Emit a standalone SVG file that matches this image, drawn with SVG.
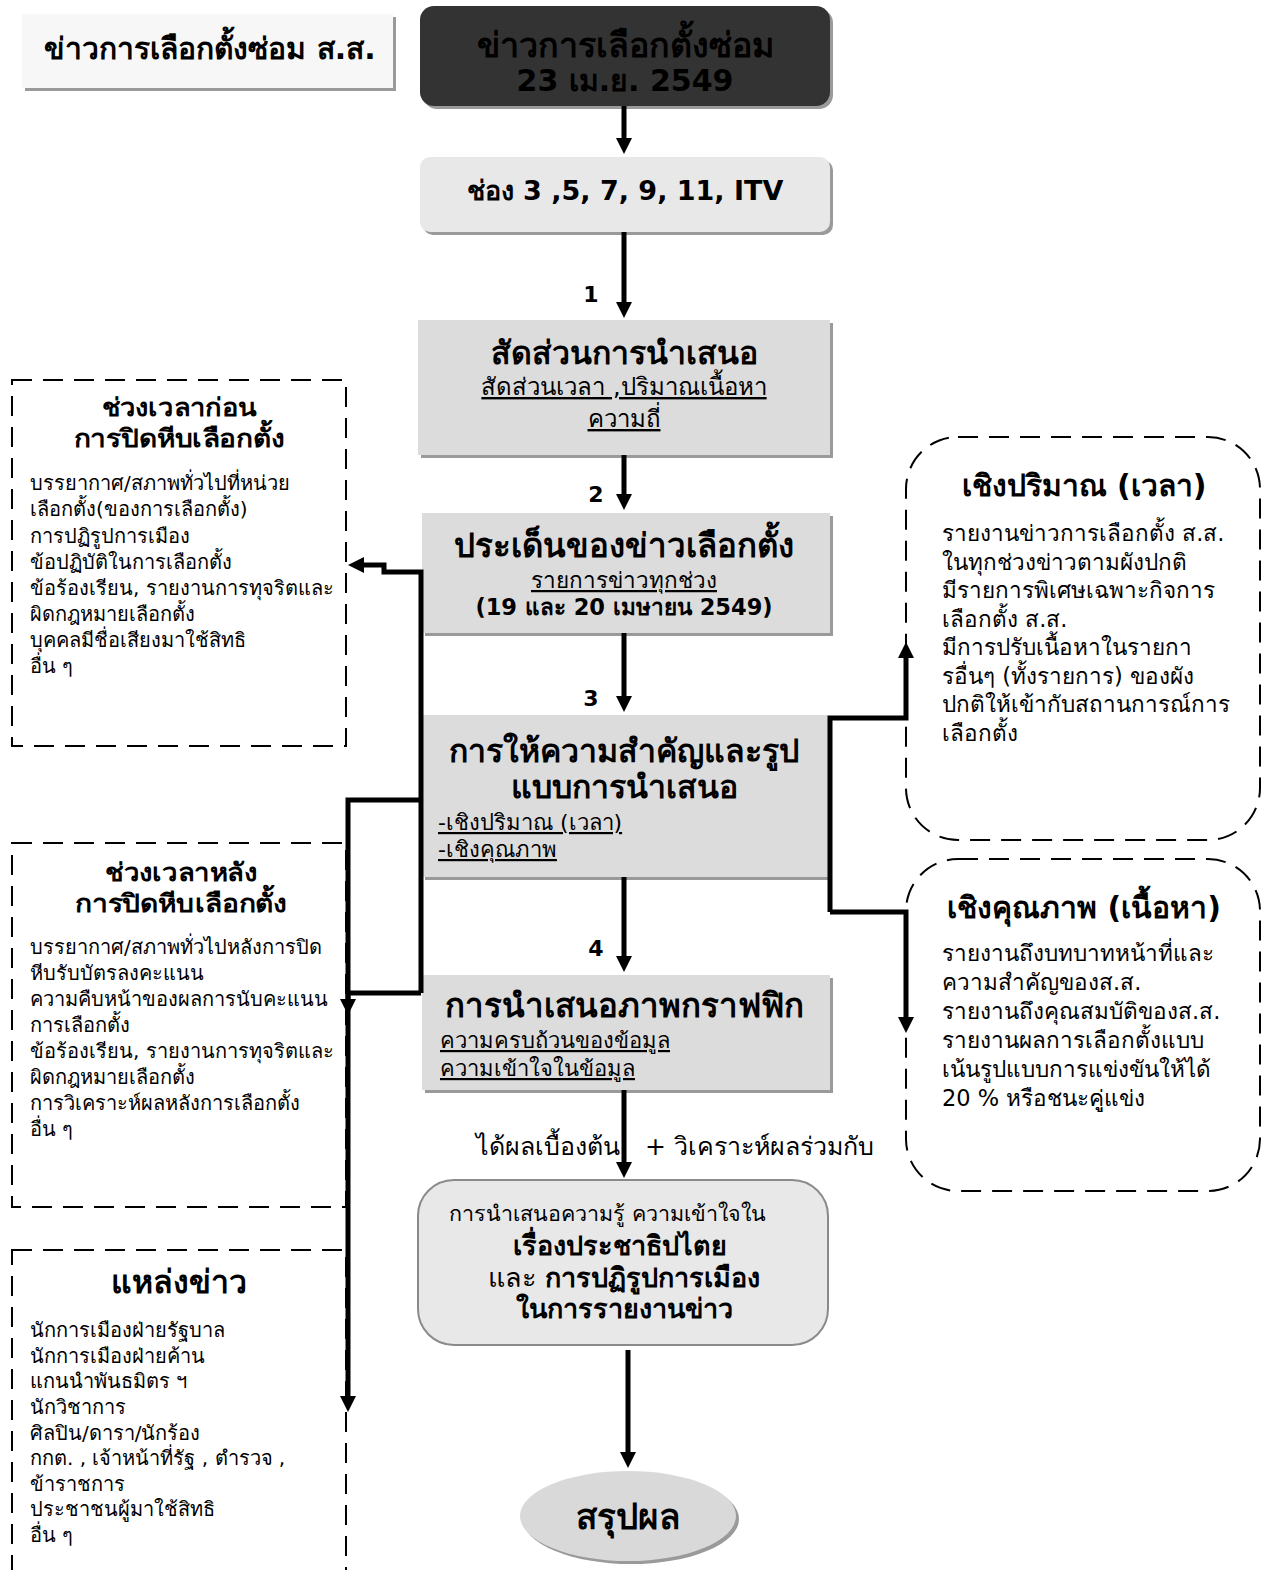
<svg xmlns="http://www.w3.org/2000/svg" width="1264" height="1570" viewBox="0 0 1264 1570">
<defs>
<marker id="ah" viewBox="0 0 16 16" refX="8" refY="8" markerWidth="16" markerHeight="16" markerUnits="userSpaceOnUse" orient="auto"><path d="M0,0 L16,8 L0,16 z" fill="#000"/></marker>
</defs>
<style>
text{font-family:"DejaVu Sans","Noto Sans",sans-serif;fill:#000}
.b{font-weight:bold}
.c{text-anchor:middle}
.u{text-decoration:underline}
.body{font-size:20px}
.rbody{font-size:22.5px}
.box{fill:#dcdcdc}
.sh{fill:#9a9a9a}
.dash{fill:none;stroke:#000;stroke-width:2;stroke-dasharray:20 11}
.con{fill:none;stroke:#000;stroke-width:5;stroke-linejoin:miter}
.arr{marker-end:url(#ah)}
</style>
<rect width="1264" height="1570" fill="#fff"/>

<g id="title-label">
<rect x="25" y="17" width="371" height="74" class="sh"/>
<rect x="22" y="14" width="371" height="74" fill="#f7f7f7"/>
<text x="210" y="59" class="b c" font-size="30">ข่าวการเลือกตั้งซ่อม ส.ส.</text>
</g>

<g id="n-top">
<rect x="423" y="9" width="410" height="100" rx="14" class="sh"/>
<rect x="420" y="6" width="410" height="100" rx="14" fill="#333"/>
<text x="625" y="57" class="b c" font-size="34">ข่าวการเลือกตั้งซ่อม</text>
<text x="625" y="91" class="b c" font-size="30">23 เม.ย. 2549</text>
</g>

<g id="n-channels">
<rect x="423" y="160" width="410" height="75" rx="10" class="sh"/>
<rect x="420" y="157" width="410" height="75" rx="10" fill="#e8e8e8"/>
<text x="625" y="200" class="b c" font-size="27">ช่อง 3 ,5, 7, 9, 11, ITV</text>
</g>

<g id="n-proportion">
<rect x="421" y="323" width="412" height="135" class="sh"/>
<rect x="418" y="320" width="412" height="135" class="box"/>
<text x="624" y="364" class="b c" font-size="32">สัดส่วนการนำเสนอ</text>
<text x="624" y="395" class="c u" font-size="24">สัดส่วนเวลา ,ปริมาณเนื้อหา</text>
<text x="624" y="427" class="c u" font-size="24">ความถี่</text>
</g>

<g id="n-issues">
<rect x="425" y="516" width="408" height="120" class="sh"/>
<rect x="422" y="513" width="408" height="120" class="box"/>
<text x="624" y="557" class="b c" font-size="33">ประเด็นของข่าวเลือกตั้ง</text>
<text x="624" y="588" class="c u" font-size="22.5">รายการข่าวทุกช่วง </text>
<text x="624" y="615" class="b c" font-size="22.5">(19 และ 20 เมษายน 2549)</text>
</g>

<g id="n-importance">
<rect x="425" y="718" width="406" height="162" class="sh"/>
<rect x="422" y="715" width="406" height="162" class="box"/>
<text x="624" y="762" class="b c" font-size="32">การให้ความสำคัญและรูป</text>
<text x="624" y="798" class="b c" font-size="32">แบบการนำเสนอ</text>
<text x="438" y="830" class="u" font-size="22">-เชิงปริมาณ (เวลา)</text>
<text x="438" y="857" class="u" font-size="22">-เชิงคุณภาพ</text>
</g>

<g id="n-graphics">
<rect x="425" y="978" width="408" height="115" class="sh"/>
<rect x="422" y="975" width="408" height="115" class="box"/>
<text x="624" y="1017" class="b c" font-size="33">การนำเสนอภาพกราฟฟิก</text>
<text x="440" y="1048" class="u" font-size="22">ความครบถ้วนของข้อมูล</text>
<text x="440" y="1076" class="u" font-size="22">ความเข้าใจในข้อมูล</text>
</g>

<g id="n-knowledge">
<rect x="418" y="1180" width="410" height="165" rx="36" fill="#e8e8e8" stroke="#8a8a8a" stroke-width="2"/>
<text x="449" y="1221" font-size="21.5">การนำเสนอความรู้ ความเข้าใจใน</text>
<text x="620" y="1255" class="b c" font-size="27">เรื่องประชาธิปไตย</text>
<text x="624" y="1287" class="c" font-size="27">และ <tspan class="b">การปฏิรูปการเมือง</tspan></text>
<text x="624" y="1318" class="b c" font-size="27">ในการรายงานข่าว</text>
</g>

<g id="n-summary">
<ellipse cx="631" cy="1519" rx="108" ry="45" class="sh"/>
<ellipse cx="628" cy="1516" rx="108" ry="45" fill="#d9d9d9"/>
<text x="628" y="1529" class="b c" font-size="35">สรุปผล</text>
</g>

<g id="n-before">
<rect x="12" y="380" width="334" height="366" class="dash"/>
<text x="179" y="416" class="b c" font-size="25" textLength="155" lengthAdjust="spacingAndGlyphs">ช่วงเวลาก่อน</text>
<text x="179" y="447" class="b c" font-size="25" textLength="211" lengthAdjust="spacingAndGlyphs">การปิดหีบเลือกตั้ง</text>
<text class="body" x="30" y="490">บรรยากาศ/สภาพทั่วไปที่หน่วย</text>
<text class="body" x="30" y="516">เลือกตั้ง(ของการเลือกตั้ง)</text>
<text class="body" x="30" y="543">การปฏิรูปการเมือง</text>
<text class="body" x="30" y="569">ข้อปฏิบัติในการเลือกตั้ง</text>
<text class="body" x="30" y="595">ข้อร้องเรียน, รายงานการทุจริตและ</text>
<text class="body" x="30" y="621">ผิดกฎหมายเลือกตั้ง</text>
<text class="body" x="30" y="647">บุคคลมีชื่อเสียงมาใช้สิทธิ</text>
<text class="body" x="30" y="673">อื่น ๆ</text>
</g>

<g id="n-after">
<rect x="12" y="843" width="334" height="364" class="dash"/>
<text x="181" y="881" class="b c" font-size="25" textLength="152" lengthAdjust="spacingAndGlyphs">ช่วงเวลาหลัง</text>
<text x="181" y="912" class="b c" font-size="25" textLength="212" lengthAdjust="spacingAndGlyphs">การปิดหีบเลือกตั้ง</text>
<text class="body" x="30" y="954">บรรยากาศ/สภาพทั่วไปหลังการปิด</text>
<text class="body" x="30" y="980">หีบรับบัตรลงคะแนน</text>
<text class="body" x="30" y="1006">ความคืบหน้าของผลการนับคะแนน</text>
<text class="body" x="30" y="1032">การเลือกตั้ง</text>
<text class="body" x="30" y="1058">ข้อร้องเรียน, รายงานการทุจริตและ</text>
<text class="body" x="30" y="1084">ผิดกฎหมายเลือกตั้ง</text>
<text class="body" x="30" y="1110">การวิเคราะห์ผลหลังการเลือกตั้ง</text>
<text class="body" x="30" y="1136">อื่น ๆ</text>
</g>

<g id="n-sources">
<rect x="12" y="1250" width="334" height="340" class="dash"/>
<text x="179" y="1293" class="b c" font-size="32">แหล่งข่าว</text>
<text class="body" x="30" y="1337">นักการเมืองฝ่ายรัฐบาล</text>
<text class="body" x="30" y="1363">นักการเมืองฝ่ายค้าน</text>
<text class="body" x="30" y="1388">แกนนำพันธมิตร ฯ</text>
<text class="body" x="30" y="1414">นักวิชาการ</text>
<text class="body" x="30" y="1440">ศิลปิน/ดารา/นักร้อง</text>
<text class="body" x="30" y="1465">กกต. , เจ้าหน้าที่รัฐ , ตำรวจ ,</text>
<text class="body" x="30" y="1491">ข้าราชการ</text>
<text class="body" x="30" y="1516">ประชาชนผู้มาใช้สิทธิ</text>
<text class="body" x="30" y="1542">อื่น ๆ</text>
</g>

<g id="n-quantity">
<rect x="906" y="437" width="354" height="403" rx="52" class="dash"/>
<text x="1084" y="496" class="b c" font-size="30">เชิงปริมาณ (เวลา)</text>
<text class="rbody" x="942" y="541">รายงานข่าวการเลือกตั้ง ส.ส.</text>
<text class="rbody" x="942" y="570">ในทุกช่วงข่าวตามผังปกติ</text>
<text class="rbody" x="942" y="598">มีรายการพิเศษเฉพาะกิจการ</text>
<text class="rbody" x="942" y="627">เลือกตั้ง ส.ส.</text>
<text class="rbody" x="942" y="655">มีการปรับเนื้อหาในรายกา</text>
<text class="rbody" x="942" y="684">รอื่นๆ (ทั้งรายการ) ของผัง</text>
<text class="rbody" x="942" y="712">ปกติให้เข้ากับสถานการณ์การ</text>
<text class="rbody" x="942" y="741">เลือกตั้ง</text>
</g>

<g id="n-quality">
<rect x="906" y="859" width="354" height="332" rx="52" class="dash"/>
<text x="1084" y="918" class="b c" font-size="30">เชิงคุณภาพ (เนื้อหา)</text>
<text class="rbody" x="942" y="961">รายงานถึงบทบาทหน้าที่และ</text>
<text class="rbody" x="942" y="990">ความสำคัญของส.ส.</text>
<text class="rbody" x="942" y="1019">รายงานถึงคุณสมบัติของส.ส.</text>
<text class="rbody" x="942" y="1048">รายงานผลการเลือกตั้งแบบ</text>
<text class="rbody" x="942" y="1077">เน้นรูปแบบการแข่งขันให้ได้</text>
<text class="rbody" x="942" y="1106">20 % หรือชนะคูู่แข่ง</text>
</g>

<g id="connectors">
<line x1="624" y1="106" x2="624" y2="146" class="con arr"/>
<line x1="624" y1="232" x2="624" y2="310" class="con arr"/>
<line x1="624" y1="455" x2="624" y2="502" class="con arr"/>
<line x1="624" y1="633" x2="624" y2="704" class="con arr"/>
<line x1="624" y1="877" x2="624" y2="964" class="con arr"/>
<line x1="624" y1="1090" x2="624" y2="1170" class="con arr"/>
<line x1="628" y1="1350" x2="628" y2="1460" class="con arr"/>
<polyline points="421,993 421,572 384,572 384,565 356,565" class="con arr"/>
<polyline points="421,800 348,800 348,1404" class="con arr"/>
<polyline points="421,993 348,993 348,1007" class="con arr"/>
<polyline points="830,912 830,718 906,718 906,650" class="con arr"/>
<polyline points="830,912 906,912 906,1025" class="con arr"/>
</g>

<g id="labels">
<text x="591" y="302" class="b c" font-size="22">1</text>
<text x="596" y="502" class="b c" font-size="22">2</text>
<text x="591" y="706" class="b c" font-size="22">3</text>
<text x="596" y="956" class="b c" font-size="22">4</text>
<text x="620" y="1155" font-size="25" text-anchor="end">ได้ผลเบื้องต้น</text>
<text x="645" y="1155" font-size="25">+ วิเคราะห์ผลร่วมกับ</text>
</g>
</svg>
